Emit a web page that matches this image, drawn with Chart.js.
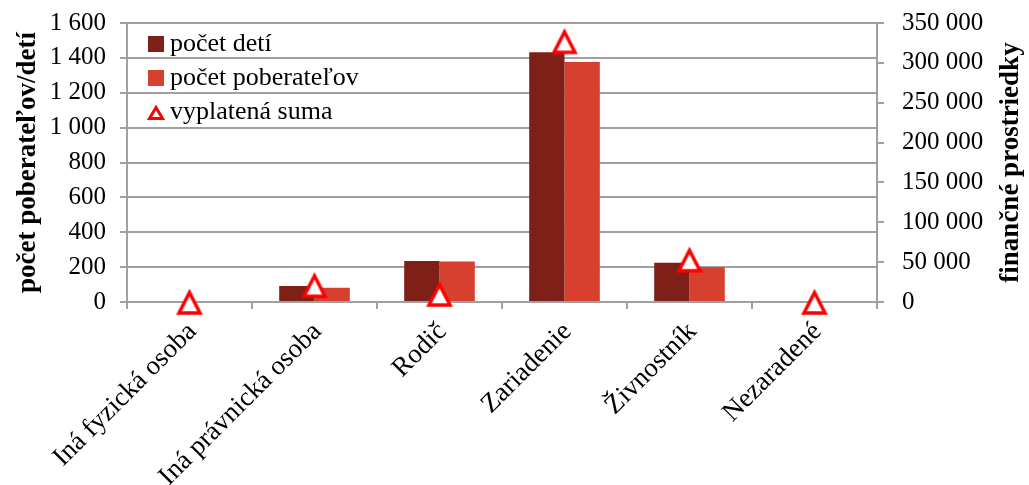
<!DOCTYPE html>
<html lang="sk">
<head>
<meta charset="utf-8">
<script src="https://cdn.jsdelivr.net/npm/chart.js@4/dist/chart.umd.min.js"></script>
<style>
  html, body { margin: 0; padding: 0; background: #fff; }
  #wrap { width: 1029px; height: 485px; position: relative; }
</style>
</head>
<body>
<div id="wrap"><canvas id="chart"></canvas></div>
<script>
// ─── Data ─────────────────────────────────────────────────────────────────────

const categories = ['Iná fyzická osoba', 'Iná právnická osoba', 'Rodič', 'Zariadenie', 'Živnostník', 'Nezaradené'];
const pocetDeti = [0, 92, 235, 1432, 225, 0];
const pocetPoberatelov = [0, 82, 232, 1376, 200, 0];
const vyplatenaSuma = [0, 21000, 10000, 327000, 53000, 0];

const leftAxis = { min: 0, max: 1600, step: 200 };
const rightAxis = { min: 0, max: 350000, step: 50000 };

// ─── Style ────────────────────────────────────────────────────────────────────

const FONT = '"Liberation Serif", "Times New Roman", serif';
const GRID = '#a0a0a0';
const DARK = '#7e2018';
const LIGHT = '#d7402e';
const RED = '#ff0000';

const fmt = (v) => String(v).replace(/\B(?=(\d{3})+(?!\d))/g, ' ');

const makeTriangle = (w, h, apexY, baseY, halfW, lw) => {
  const c = document.createElement('canvas');
  c.width = w;
  c.height = h;
  const ctx = c.getContext('2d');
  ctx.beginPath();
  ctx.moveTo(w / 2, apexY);
  ctx.lineTo(w / 2 + halfW, baseY);
  ctx.lineTo(w / 2 - halfW, baseY);
  ctx.closePath();
  ctx.fillStyle = '#fff';
  ctx.fill();
  ctx.lineWidth = lw;
  ctx.lineJoin = 'miter';
  ctx.strokeStyle = RED;
  ctx.stroke();
  return c;
};

const bigTriangle = makeTriangle(32, 30, 5.5, 26, 10.5, 3.5);
const smallTriangle = makeTriangle(20, 18, 4.5, 15.5, 6.5, 3);

// fixed axis sizes, no extra padding from tick labels
const fixSize = (prop, size) => (s) => {
  s[prop] = size;
  s.paddingTop = 0;
  s.paddingBottom = 0;
  s.paddingLeft = 0;
  s.paddingRight = 0;
};

// right axis title reads bottom-to-top like the left one
const rightTitle = {
  id: 'rightTitle',
  afterDraw(chart) {
    const { ctx, chartArea } = chart;
    const s = chart.scales.y1;
    ctx.save();
    ctx.translate(s.right - 18, (chartArea.top + chartArea.bottom) / 2);
    ctx.rotate(-Math.PI / 2);
    ctx.font = `bold 27px ${FONT}`;
    ctx.fillStyle = '#000';
    ctx.textAlign = 'center';
    ctx.textBaseline = 'middle';
    ctx.fillText('finančné prostriedky', 0, 0);
    ctx.restore();
  },
};

// put the legend inside the plot, near its top left corner
const legendOffset = {
  id: 'legendOffset',
  beforeDraw(chart) {
    if (!chart.legend) return;
    chart.legend.left = chart.chartArea.left + 20;
    chart.legend.top = chart.chartArea.top;
  },
};

const tickFont = { family: FONT, size: 25 };
const titleFont = { family: FONT, size: 27, weight: 'bold' };

new Chart(document.getElementById('chart'), {
  type: 'bar',
  data: {
    labels: categories,
    datasets: [
      {
        label: 'počet detí',
        data: pocetDeti,
        backgroundColor: DARK,
        pointStyle: 'rect',
        order: 1,
      },
      {
        label: 'počet poberateľov',
        data: pocetPoberatelov,
        backgroundColor: LIGHT,
        pointStyle: 'rect',
        order: 1,
      },
      {
        type: 'line',
        label: 'vyplatená suma',
        data: vyplatenaSuma,
        yAxisID: 'y1',
        showLine: false,
        pointStyle: bigTriangle,
        pointRadius: 14,
        clip: false,
        order: 0,
      },
    ],
  },
  options: {
    responsive: true,
    maintainAspectRatio: false,
    animation: false,
    datasets: { bar: { categoryPercentage: 0.565, barPercentage: 1 } },
    layout: { padding: { top: 23, left: 0, right: 0, bottom: 0 } },
    plugins: {
      tooltip: { enabled: false },
      legend: {
        position: 'chartArea',
        align: 'start',
        labels: {
          usePointStyle: true,
          boxWidth: 2,
          boxHeight: 16,
          padding: 8,
          color: '#000',
          font: { family: FONT, size: 26 },
          generateLabels: (chart) => {
            const items = Chart.defaults.plugins.legend.labels.generateLabels(chart);
            items.forEach((it) => {
              if (it.datasetIndex === 2) it.pointStyle = smallTriangle;
            });
            return items.sort((a, b) => a.datasetIndex - b.datasetIndex);
          },
        },
      },
    },
    scales: {
      x: {
        offset: true,
        grid: { offset: true, drawOnChartArea: false, tickLength: 7, color: GRID, lineWidth: 2 },
        border: { color: GRID, width: 2 },
        ticks: {
          autoSkip: false,
          maxRotation: 45,
          minRotation: 45,
          color: '#000',
          font: { family: FONT, size: 27 },
          padding: 7,
          labelOffset: 3,
        },
        afterFit: fixSize('height', 183),
      },
      y: {
        position: 'left',
        min: leftAxis.min,
        max: leftAxis.max,
        ticks: { stepSize: leftAxis.step, callback: fmt, color: '#000', font: tickFont, padding: 14 },
        grid: { color: GRID, lineWidth: 2, tickLength: 7 },
        border: { color: GRID, width: 2 },
        title: {
          display: true,
          text: 'počet poberateľov/detí',
          color: '#000',
          font: titleFont,
          padding: { top: 12, bottom: 0 },
        },
        afterFit: fixSize('width', 127),
      },
      y1: {
        position: 'right',
        min: rightAxis.min,
        max: rightAxis.max,
        ticks: { stepSize: rightAxis.step, callback: fmt, color: '#000', font: tickFont, padding: 18 },
        grid: { drawOnChartArea: false, color: GRID, lineWidth: 2, tickLength: 7 },
        border: { color: GRID, width: 2 },
        afterFit: fixSize('width', 152),
      },
    },
  },
  plugins: [rightTitle, legendOffset],
});
</script>
</body>
</html>
